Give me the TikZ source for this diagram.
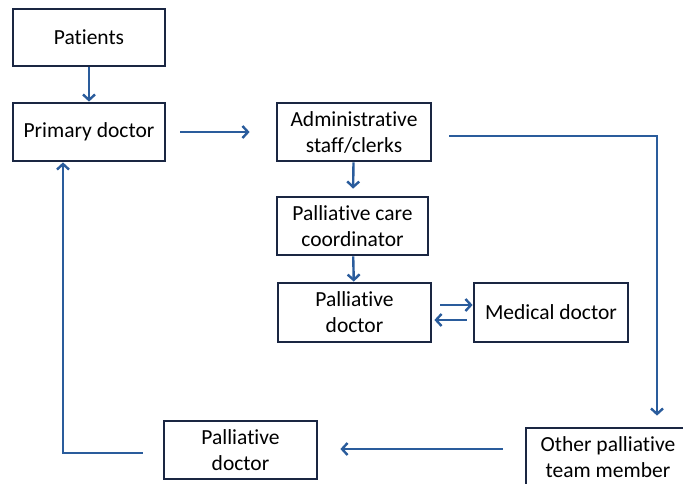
\documentclass[tikz,border=0pt]{standalone}
\usepackage{fontspec}
\setmainfont[Ligatures=NoCommon]{Carlito}
\usetikzlibrary{arrows.meta}
\definecolor{boxline}{RGB}{26,38,66}
\definecolor{flow}{RGB}{42,92,156}
\begin{document}
\begin{tikzpicture}[x=1pt,y=-1pt,
  stage/.style={draw=boxline, line width=2.8pt, minimum width=152pt,
    minimum height=57pt, align=center, inner sep=0pt,
    font=\fontsize{21.5}{26}\selectfont},
  flowline/.style={draw=flow, line width=2.4pt,
    -{Straight Barb[length=5.5pt,width=12pt]}}]
\useasboundingbox (0,0) rectangle (683,483);
\clip (0,0) rectangle (683,483);

% boxes
\node[stage] (pat) at (89,37.5) {Patients};
\node[stage, minimum height=58pt] (prim) at (89,132) {Primary doctor};
\node[stage, minimum width=154pt, minimum height=58pt] (admin) at (354,132) {Administrative\\staff/clerks};
\node[stage, minimum width=151pt, minimum height=58pt] (coord) at (352.5,226) {Palliative care\\coordinator};
\node[stage, minimum width=153pt, minimum height=59pt] (pdoc) at (354.5,312.5) {Palliative\\doctor};
\node[stage, minimum width=154pt, minimum height=59pt] (med) at (551,312.5) {Medical doctor};
\node[stage, minimum width=153pt, minimum height=58pt] (pdoc2) at (240.5,450) {Palliative\\doctor};
\node[stage, minimum width=164pt, minimum height=59pt] (other) at (608,457.5) {Other palliative\\team member};

% connectors
\draw[flowline] (pat) -- (prim);
\draw[flowline, shorten <=14pt, shorten >=26pt] (prim) -- (admin);
\draw[flowline, shorten >=7pt] (admin) -- (coord);
\draw[flowline] (coord) -- (pdoc);
\draw[flowline, shorten <=8pt] ([yshift=7.5pt]pdoc.east) -- ([yshift=7.5pt]med.west);
\draw[flowline, shorten <=6pt, shorten >=2pt] ([yshift=-7.5pt]med.west) -- ([yshift=-7.5pt]pdoc.east);
\draw[flowline, shorten >=11pt] ([xshift=17pt,yshift=-4pt]admin.east) -| ([xshift=49pt]other.north);
\draw[flowline, shorten <=22pt, shorten >=22pt] ([yshift=8.5pt]other.west) -- ([yshift=8.5pt]other.west -| pdoc2.east);
\draw[flowline] ([xshift=-20pt,yshift=-3pt]pdoc2.west) -| ([xshift=-26pt]prim.south);
\end{tikzpicture}
\end{document}
